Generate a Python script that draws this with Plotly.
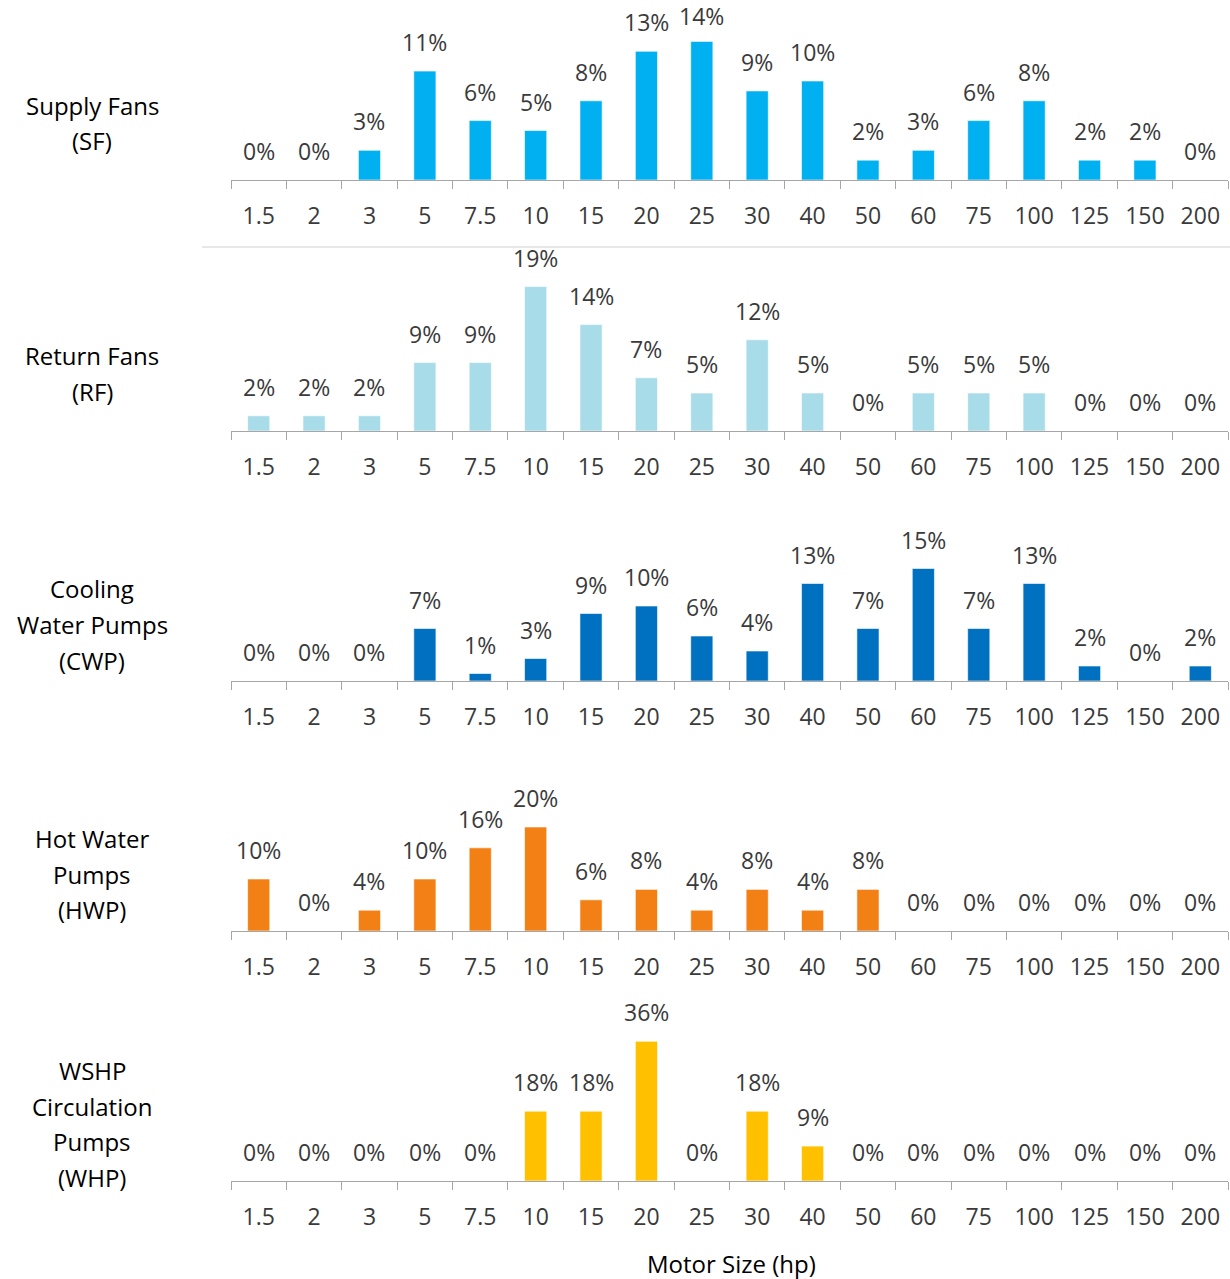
import plotly.graph_objects as go

W, H = 1230, 1279

# Motor size categories (hp)
sizes = ["1.5", "2", "3", "5", "7.5", "10", "15", "20", "25", "30",
         "40", "50", "60", "75", "100", "125", "150", "200"]

# Share of motors in each size bin (%)
supply_fans = [0, 0, 3, 11, 6, 5, 8, 13, 14, 9, 10, 2, 3, 6, 8, 2, 2, 0]
return_fans = [2, 2, 2, 9, 9, 19, 14, 7, 5, 12, 5, 0, 5, 5, 5, 0, 0, 0]
cooling_water_pumps = [0, 0, 0, 7, 1, 3, 9, 10, 6, 4, 13, 7, 15, 7, 13, 2, 0, 2]
hot_water_pumps = [10, 0, 4, 10, 16, 20, 6, 8, 4, 8, 4, 8, 0, 0, 0, 0, 0, 0]
wshp_pumps = [0, 0, 0, 0, 0, 18, 18, 36, 0, 18, 9, 0, 0, 0, 0, 0, 0, 0]

series = [
    (supply_fans, ["Supply Fans", "(SF)"], "#00B0F0"),
    (return_fans, ["Return Fans", "(RF)"], "#A8DCE9"),
    (cooling_water_pumps, ["Cooling", "Water Pumps", "(CWP)"], "#0070C0"),
    (hot_water_pumps, ["Hot Water", "Pumps", "(HWP)"], "#F28014"),
    (wshp_pumps, ["WSHP", "Circulation", "Pumps", "(WHP)"], "#FFC000"),
]

# Layout of each panel in pixels: baseline, px per percent, left-label line centers
panel_base = [180, 431, 681, 931, 1181]
panel_ppu = [9.9, 7.6, 7.5, 5.2, 3.88]
panel_top = [18, 268, 518, 768, 1018]
label_lines_y = [
    [105, 140],
    [355, 391],
    [589, 624, 660],
    [838, 874, 909],
    [1070, 1106, 1141, 1177],
]

X0, X1 = 231, 1228
FONT = "Open Sans"
TXT = "#3A3A3A"
AXIS = "#A6A6A6"
VAL_SIZE = 23
LABEL_BOX = 33  # approx. height of a value-label box in px


def py(px):
    return 1 - px / H


def pxx(px):
    return px / W


fig = go.Figure()
annotations = []
layout_axes = {}

for i, (vals, label, color) in enumerate(series):
    n = i + 1
    xa = "x" if n == 1 else f"x{n}"
    ya = "y" if n == 1 else f"y{n}"
    fig.add_trace(go.Bar(
        x=sizes, y=vals, xaxis=xa, yaxis=ya,
        marker=dict(color=color, line=dict(color="rgba(255,255,255,0.6)", width=1)),
        showlegend=False, hoverinfo="x+y",
    ))
    base, ppu, top = panel_base[i], panel_ppu[i], panel_top[i]
    yrange = (base - top) / ppu
    xkey = "xaxis" if n == 1 else f"xaxis{n}"
    ykey = "yaxis" if n == 1 else f"yaxis{n}"
    layout_axes[xkey] = dict(
        domain=[pxx(X0), pxx(X1)], anchor=ya, type="category",
        categoryorder="array", categoryarray=sizes,
        range=[-0.5, len(sizes) - 0.5],
        showline=True, linecolor=AXIS, linewidth=1,
        ticks="outside", tickson="boundaries", ticklen=8, tickcolor=AXIS,
        tickwidth=1, showgrid=False, zeroline=False, tickangle=0,
        tickfont=dict(family=FONT, size=23, color=TXT),
        ticklabelstandoff=15,
    )
    layout_axes[ykey] = dict(
        domain=[py(base), py(top)], anchor=xa, range=[0, yrange],
        visible=False, showgrid=False, zeroline=False,
    )
    # value labels above each bar, nudged down if they would leave the figure
    for j, v in enumerate(vals):
        bar_top_px = base - v * ppu
        shift = min(11, bar_top_px - LABEL_BOX - 1)
        annotations.append(dict(
            x=j, y=v, xref=xa, yref=ya, text=f"{v}%", showarrow=False,
            yanchor="bottom", yshift=shift,
            font=dict(family=FONT, size=VAL_SIZE, color=TXT),
        ))
    # panel label on the left
    for line, ly in zip(label, label_lines_y[i]):
        annotations.append(dict(
            x=pxx(92), y=py(ly), xref="paper", yref="paper", text=line,
            showarrow=False, xanchor="center", yanchor="middle",
            font=dict(family=FONT, size=24, color="#000000"),
        ))

annotations.append(dict(
    x=pxx(731), y=py(1263), xref="paper", yref="paper", text="Motor Size (hp)",
    showarrow=False, xanchor="center", yanchor="middle",
    font=dict(family=FONT, size=24, color="#000000"),
))

fig.update_layout(
    width=W, height=H, margin=dict(l=0, r=0, t=0, b=0),
    paper_bgcolor="white", plot_bgcolor="white",
    bargap=0.6, annotations=annotations,
    shapes=[dict(type="line", xref="paper", yref="paper",
                 x0=pxx(202), x1=1, y0=py(247), y1=py(247),
                 line=dict(color="#D0D0D0", width=1))],
    **layout_axes,
)

fig.write_html("out.html")
